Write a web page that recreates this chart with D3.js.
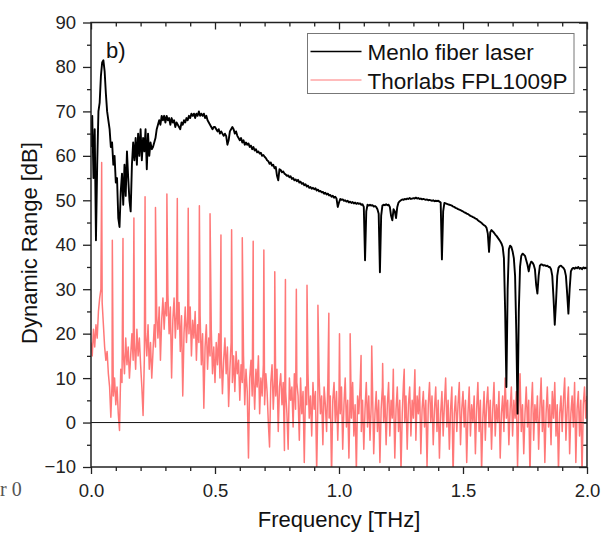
<!DOCTYPE html>
<html>
<head>
<meta charset="utf-8">
<script src="https://cdn.jsdelivr.net/npm/d3@7"></script>
<style>
    body { margin: 0; background: #fff; }
    svg { display: block; font-family: "Liberation Sans", Arial, sans-serif; }
    .axis text { font-size: 18.5px; fill: #222; }
    .axis line { stroke: #222; stroke-width: 1.3; }
</style>
</head>
<body>
<svg id="chart"></svg>
<script>
const dims = { width: 601, height: 535 };
const margin = { left: 91, right: 14, top: 22.5, bottom: 68 };

// frequency sampling grid, THz (0.005 THz steps, 0 ... 2.0)
const freqStep = 0.005;
const freq = d3.range(0, 401).map(i => +(i * freqStep).toFixed(3));

// Menlo fiber laser, dB, one value per grid point
const menloDb = [
    62, 69, 55, 66, 41, 58, 70, 72, 78, 81, 81.5, 79, 74, 70, 68, 66, 62, 63, 58, 60,
    54, 55, 46, 44, 52, 56, 49, 58, 51, 61, 55, 50, 47.5, 58, 63, 59, 64, 58, 65, 60,
    66, 59, 64, 61, 66, 57, 65, 60, 63, 61.5, 62, 63, 64, 66, 67, 68, 67, 69, 68, 69,
    67.5, 69, 68, 68.5, 67, 68.5, 67.5, 68, 66.5, 67.5, 67, 66.5, 66, 67.5, 67, 68, 67.5, 68.5, 68, 69,
    68.5, 69.5, 69, 69.5, 68.5, 69.5, 69, 70, 69, 69.5, 69, 69.5, 68.5, 69, 68, 67.5, 67, 66.5, 66, 66.5,
    66.5, 66, 65.5, 66, 65, 65.5, 65, 64.5, 65, 64.5, 62.5, 63.5, 65.5, 66, 66.5, 66, 65, 65.5, 64.5, 64,
    63.5, 64, 63, 63.5, 62.5, 63, 62.5, 62.8, 62, 62.3, 61.5, 62, 61.2, 61.5, 60.8, 61, 60.5, 60.7, 60, 60.2,
    59.8, 59.5, 59, 58.8, 58.2, 58.5, 57.8, 58, 57.2, 57.5, 55.5, 54.5, 57, 56.8, 56.3, 56.5, 56, 55.8, 55.5, 55.6,
    55.2, 55.4, 54.8, 55, 54.5, 54.7, 54.3, 54.6, 54, 54.2, 53.7, 53.9, 53.4, 53.6, 53.1, 53.3, 52.8, 53, 52.6, 52.8,
    52.5, 52.7, 52.2, 52.4, 52, 52.1, 51.8, 51.9, 51.5, 51.7, 51.3, 51.5, 51.1, 51.2, 50.8, 51, 50.6, 50.8, 50.4, 48.5,
    49.5, 50.3, 50.1, 50.2, 49.9, 50, 49.7, 49.9, 49.5, 49.7, 49.4, 49.6, 49.3, 49.5, 49.2, 49.4, 49.2, 49.3, 49, 49.1,
    48.5, 36.5, 47.5, 49, 48.8, 49, 48.8, 48.9, 48.6, 48.7, 48.5, 48, 47, 33.8, 46.5, 48.8, 49, 48.9, 49.1, 48.9,
    49, 48.5, 46.5, 45.5, 48, 47.5, 46, 48.5, 49.5, 49.8, 50, 50.2, 50.1, 50.3, 50.2, 50.4, 50.3, 50.5, 50.3, 50.4,
    50.5, 50.4, 50.6, 50.4, 50.5, 50.3, 50.4, 50.2, 50.3, 50.2, 50.1, 50.2, 50, 50.1, 50, 49.9, 50, 49.8, 49.9, 49.8,
    49.9, 49.7, 49.5, 36.7, 47.5, 49.4, 49.3, 49.2, 49.1, 49, 48.9, 48.8, 48.6, 48.5, 48.3, 48.2, 48, 47.9, 47.8, 47.6,
    47.5, 47.3, 47.2, 47, 46.9, 46.7, 46.5, 46.4, 46.2, 46.1, 45.9, 45.8, 45.5, 45.3, 45.1, 44.9, 44.6, 44.4, 44.2, 43.8,
    42.5, 38.4, 42.8, 43.3, 43, 42.7, 42.3, 42, 41.6, 41.2, 40.8, 40.3, 39.5, 37, 25, 8, 30, 39, 39.8, 39.5,
    38.5, 37, 33, 20, 2, 25, 35, 37.5, 38, 37.8, 37.5, 36.5, 35.5, 34, 35.5, 36.2, 36, 35.5, 34.5, 31,
    29, 33, 35.3, 35.6, 35.5, 35.3, 35.4, 35.2, 35.3, 35, 35, 34.5, 33, 28, 22, 27, 33, 34.8, 35.2, 35.3,
    35, 34.8, 34.3, 33, 29, 24.5, 30, 34, 34.6, 34.8, 34.6, 34.9, 34.7, 35, 34.6, 34.8, 34.5, 34.9, 34.7, 34.8,
    34.6
];

// Thorlabs FPL1009P, dB, noise floor on the same grid
const thorDb = [
    18, 15, 21, 17, 22, 19, 25, 28, 30, 27, 22, 17, 14, 16, 11, 8, 1.2, 9, 6, 10,
    4, 8, 2, -1.8, 12, 9, 16, 11, 19, 13, 17, 10, 15, 20, 14, 18, 12, 21, 15, 19,
    13, 8, 1.6, 14, 20, 15, 22, 12, 18, 10, 16, 22, 17, 24, 19, 26, 14, 23, 28, 21,
    27, 24, 29, 20, 26, 10, 23, 28, 19, 25, 21, 27, 16, 24, 6, 20, 26, 18, 24, 20,
    26, 15, 23, 19, 25, 14, 22, 18, 24, 13, 20, 3.2, 17, 22, 12, 19, 15, 21, 11, 17,
    9, 18, 13, 20, 10, 16, 6.5, 14, 19, 11, 17, 3.6, 12, 18, 9, 15, 7, 16, 11, 14,
    5, 13, 9, 15, 4, 12, 7, -8, 10, 14, 6, 11, 3, 12, 8, 15, 2, 10, 6, 13,
    4, 11, 7, 0, -5.5, 9, 13, 3, 10, 6, 12, -2, 8, 11, 4, 9, -6.3, 7, 2, -6,
    10, 5, 8, -1, 11, 3, 9, 6, -4, 10, 2, 7, -9, 8, 4, 11, 1, 6, -3, 9,
    3, 7, -11, 5, 10, 2, 6, -5, 8, 4, -2, 9, 1, 6, -12, 5, 9, 0, 7, -4,
    6, 2, 8, -6, 4, 10, -1, 5, -8, 7, 1, 9, -3, 4, -11, 6, 2, 8, -2, 5,
    -6, 3, 9, -1, 6, -4, 4, 8, -7, 2, 7, -2, 5, -9, 3, 8, 0, 6, -5, 4,
    9, -3, 5, 1, 7, -8, 3, 8, -2, 5, -11, 2, 9, 0, 6, -6, 4, 8, -3, 5,
    1, 10, -4, 6, 2, 8, -7, 3, 7, -1, 5, -10, 4, 9, 0, 6, -5, 3, 8, -2,
    5, -8, 2, 7, -3, 4, 10, -1, 5, -6, 3, 8, -12, 2, 6, -2, 4, 9, -5, 3,
    7, -1, 5, -9, 2, 8, -3, 4, 0, 6, -7, 3, 9, -2, 5, -11, 1, 7, -4, 4,
    8, -1, 5, -6, 3, 9, -3, 4, 0, 7, -8, 2, 6, -2, 10, 1, 5, -5, 3, 8,
    -3, 5, 1, 7, -10, 3, 11, -2, 4, -7, 2, 8, -1, 5, -12, 3, 9, -4, 4, 0,
    6, -6, 3, 10, -2, 5, -9, 2, 8, -1, 4, -5, 7, 1, 9, -3, 4, -11, 2, 6,
    -2, 5, 10, -4, 3, 8, -7, 2, 6, -1, 9, -9, 3, 7, -3, 5, -12, 4, 8, 1,
    6
];

// Thorlabs comb spikes
const spikeFreq = [0.043, 0.086, 0.129, 0.173, 0.218, 0.260, 0.306, 0.348, 0.392, 0.437,
    0.480, 0.524, 0.567, 0.610, 0.654, 0.697, 0.741, 0.784, 0.828, 0.871,
    0.915, 0.959, 1.002, 1.045, 1.089, 1.132, 1.176, 1.219, 1.263, 1.306];
const spikeDb = [58.5, 41, 41.4, 46, 50.8, 48.4, 51.4, 50.4, 48.2, 48.8,
    47, 42.2, 43.4, 41.6, 40.8, 38.8, 33.9, 32.2, 30, 30.9,
    26.4, 24.6, 20, 20, 15.1, 17.2, 13.3, 12, 12, 11.9];

const seriesNames = ['Menlo fiber laser', 'Thorlabs FPL1009P'];
const seriesColors = ['#000000', '#ff7878'];

const xTicks = [0, 0.5, 1.0, 1.5, 2.0];
const yTicks = [-10, 0, 10, 20, 30, 40, 50, 60, 70, 80, 90];

const plot = {
    width: dims.width - margin.left - margin.right,
    height: dims.height - margin.top - margin.bottom
};

const svg = d3.select('#chart')
    .attr('width', dims.width)
    .attr('height', dims.height);

const scales = {
    x: d3.scaleLinear().domain([0, 2]).range([0, plot.width]),
    y: d3.scaleLinear().domain([-10, 90]).range([plot.height, 0])
};

svg.append('defs')
    .append('clipPath')
    .attr('id', 'plotClip')
    .append('rect')
    .attr('width', plot.width)
    .attr('height', plot.height);

const g = svg.append('g')
    .attr('transform', `translate(${margin.left},${margin.top})`);

const xMinor = d3.range(0, 21).map(i => i / 10).filter(v => !xTicks.includes(v));
const yMinor = d3.range(-10, 91, 5).filter(v => !yTicks.includes(v));

function drawAxis(axisFn, scale, values, size, withLabels, fmt, transform) {
    const el = g.append('g')
        .attr('class', 'axis')
        .attr('transform', transform)
        .call(axisFn(scale).tickValues(values).tickSize(size).tickSizeOuter(0)
            .tickPadding(withLabels ? (axisFn === d3.axisBottom ? 10 : 7) : 0)
            .tickFormat(withLabels ? fmt : ''));
    el.select('.domain').remove();
    return el;
}

// bottom / left with labels, outward ticks
drawAxis(d3.axisBottom, scales.x, xTicks, 7, true, d3.format('.1f'), `translate(0,${plot.height})`);
drawAxis(d3.axisBottom, scales.x, xMinor, 4, false, null, `translate(0,${plot.height})`);
drawAxis(d3.axisLeft, scales.y, yTicks, 8, true, d3.format('d'), 'translate(0,0)');
drawAxis(d3.axisLeft, scales.y, yMinor, 4, false, null, 'translate(0,0)');
// top / right mirrored, inward ticks
drawAxis(d3.axisTop, scales.x, xTicks, -7, false, null, 'translate(0,0)');
drawAxis(d3.axisTop, scales.x, xMinor, -4, false, null, 'translate(0,0)');
drawAxis(d3.axisRight, scales.y, yTicks, -8, false, null, `translate(${plot.width},0)`);
drawAxis(d3.axisRight, scales.y, yMinor, -4, false, null, `translate(${plot.width},0)`);

const line = d3.line()
    .x(d => scales.x(d.f))
    .y(d => scales.y(d.v));

const elData = g.append('g').attr('clip-path', 'url(#plotClip)');

const thorPoints = freq.map((f, i) => ({ f, v: thorDb[i] }))
    .concat(spikeFreq.map((f, i) => ({ f, v: spikeDb[i] })))
    .sort((a, b) => a.f - b.f);

elData.append('path')
    .datum(thorPoints)
    .attr('fill', 'none')
    .attr('stroke', seriesColors[1])
    .attr('stroke-width', 1.5)
    .attr('stroke-linejoin', 'round')
    .attr('d', line);

// zero line
elData.append('line')
    .attr('x1', 0).attr('x2', plot.width)
    .attr('y1', scales.y(0)).attr('y2', scales.y(0))
    .attr('stroke', '#111')
    .attr('stroke-width', 1);

elData.append('path')
    .datum(freq.map((f, i) => ({ f, v: menloDb[i] })))
    .attr('fill', 'none')
    .attr('stroke', seriesColors[0])
    .attr('stroke-width', 1.9)
    .attr('stroke-linejoin', 'round')
    .attr('d', line);

// frame
g.append('rect')
    .attr('width', plot.width)
    .attr('height', plot.height)
    .attr('fill', 'none')
    .attr('stroke', '#222')
    .attr('stroke-width', 1.5);

// legend
const legend = svg.append('g').attr('transform', 'translate(307.5,33.5)');
legend.append('rect')
    .attr('width', 266.5)
    .attr('height', 60)
    .attr('fill', '#fff')
    .attr('stroke', '#777')
    .attr('stroke-width', 1);
seriesNames.forEach((name, i) => {
    const yy = 18 + i * 28.5;
    legend.append('line')
        .attr('x1', 3).attr('x2', 54)
        .attr('y1', yy).attr('y2', yy)
        .attr('stroke', seriesColors[i])
        .attr('stroke-width', i === 0 ? 1.6 : 1);
    legend.append('text')
        .attr('x', 60)
        .attr('y', yy + 8.5)
        .attr('font-size', 22.5)
        .attr('fill', '#111')
        .text(name);
});

// panel label
svg.append('text')
    .attr('x', 106)
    .attr('y', 58)
    .attr('font-size', 22)
    .attr('fill', '#111')
    .text('b)');

// axis titles
svg.append('text')
    .attr('x', margin.left + plot.width / 2)
    .attr('y', 527)
    .attr('text-anchor', 'middle')
    .attr('font-size', 22)
    .attr('fill', '#111')
    .text('Frequency [THz]');

svg.append('text')
    .attr('transform', 'translate(37,243) rotate(-90)')
    .attr('text-anchor', 'middle')
    .attr('font-size', 22)
    .attr('fill', '#111')
    .text('Dynamic Range [dB]');

// stray fragment at the left edge
svg.append('text')
    .attr('x', 0)
    .attr('y', 496)
    .attr('font-family', '"Liberation Serif", serif')
    .attr('font-size', 20)
    .attr('fill', '#555')
    .text('r 0');
</script>
</body>
</html>
